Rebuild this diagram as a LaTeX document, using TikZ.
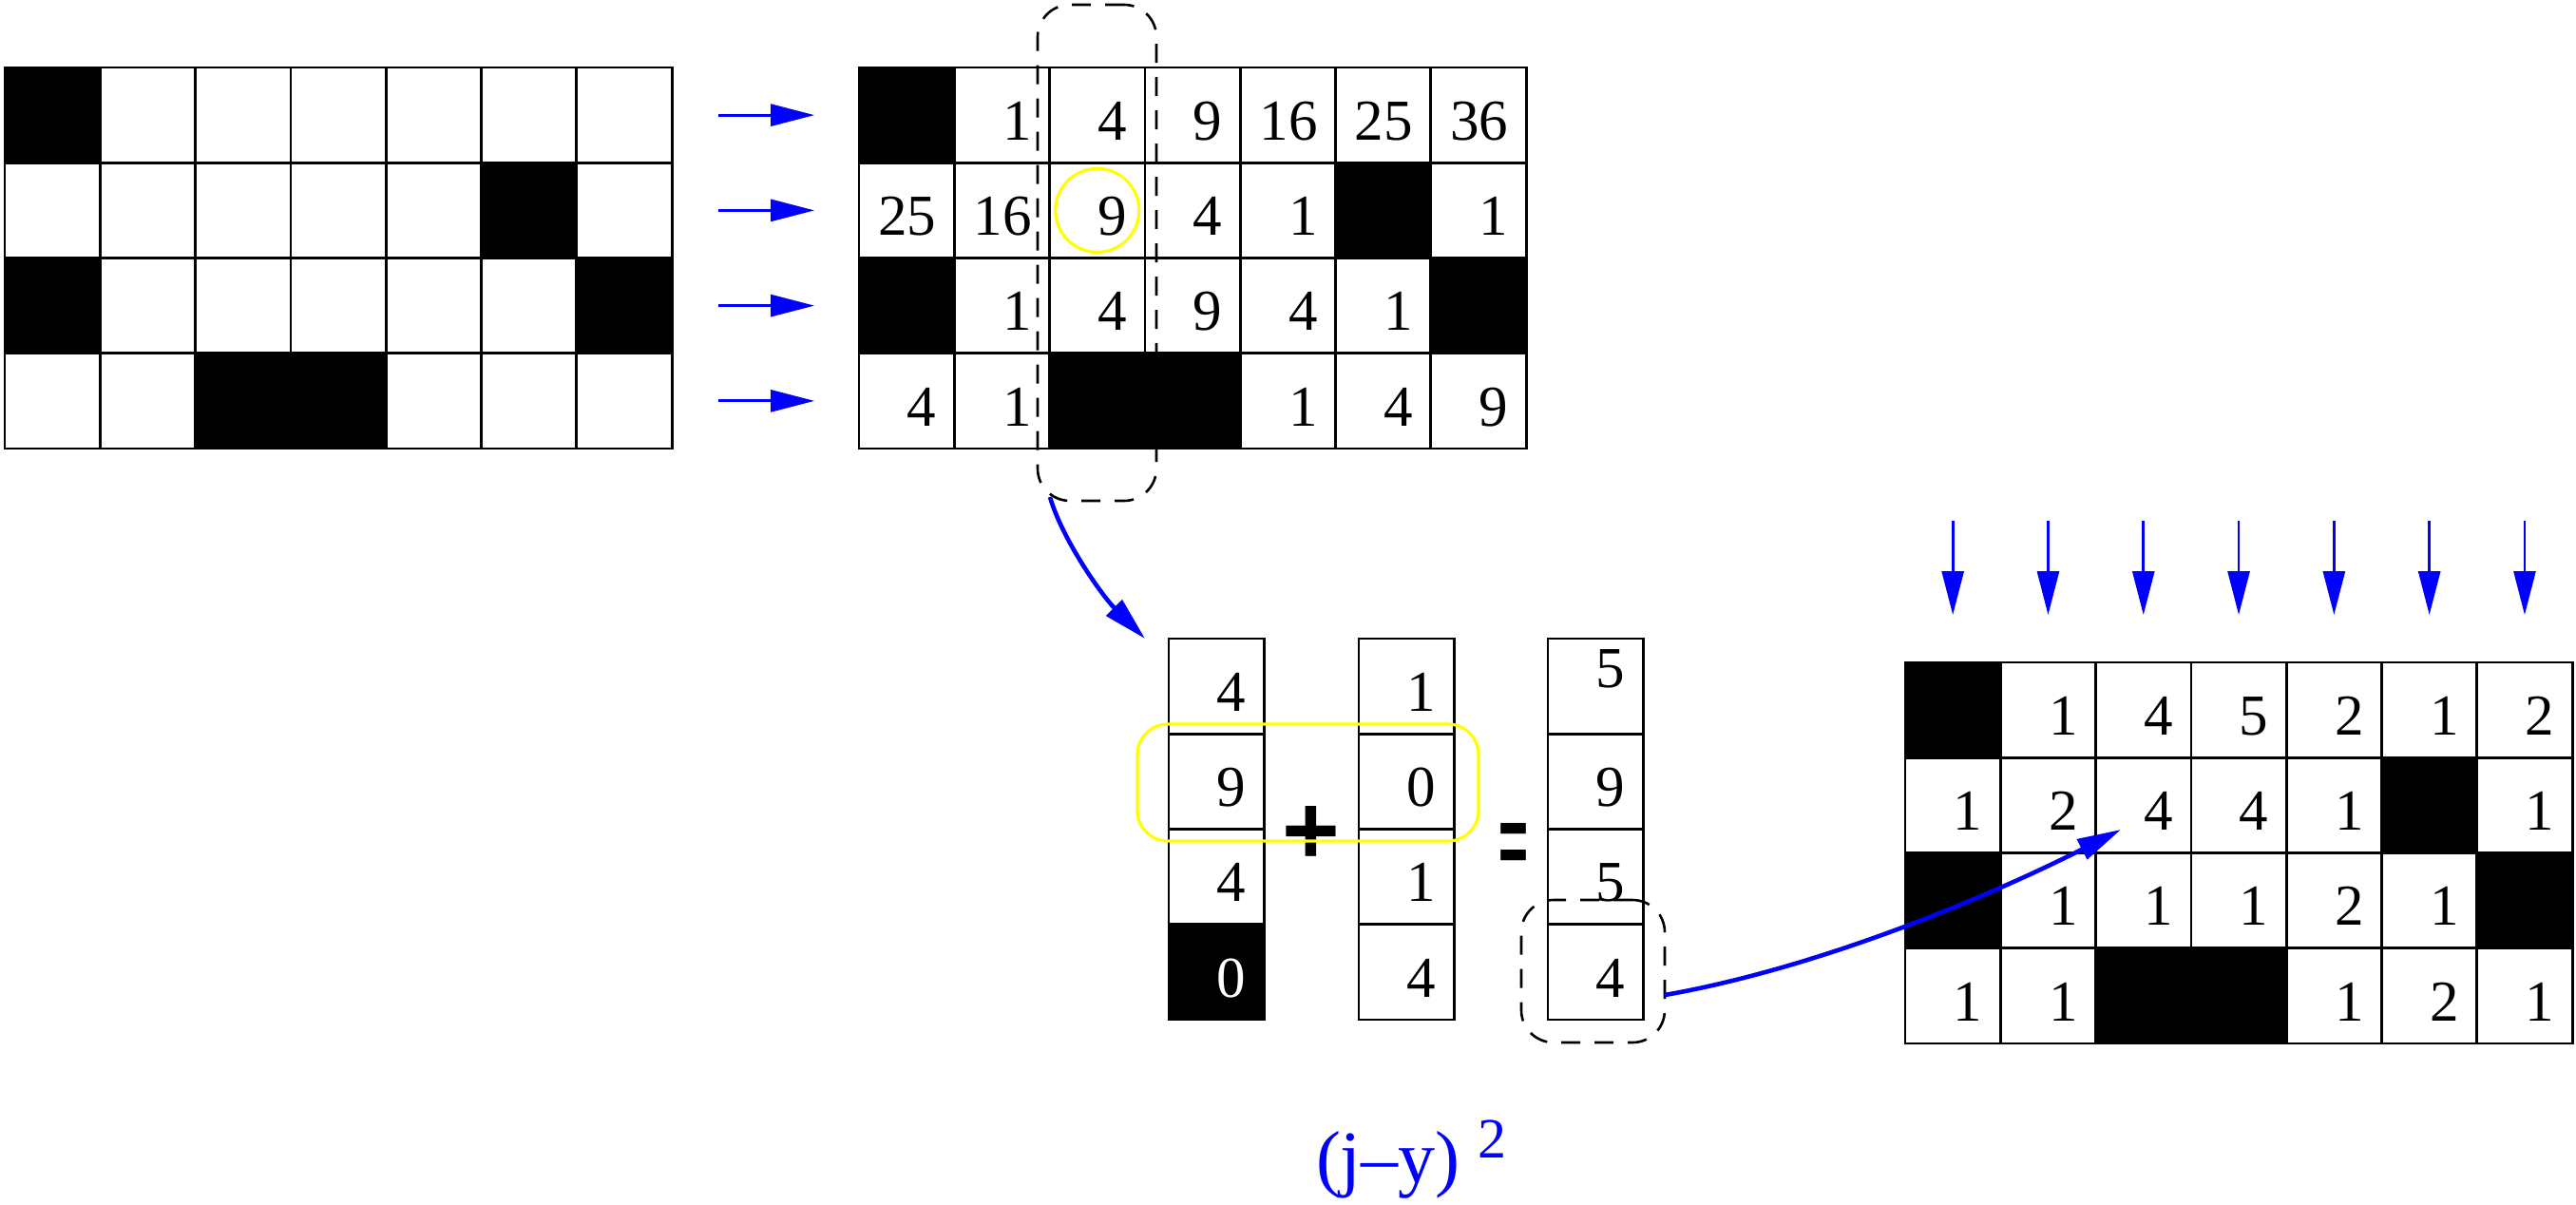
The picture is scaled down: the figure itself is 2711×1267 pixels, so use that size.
\documentclass[tikz,border=0pt]{standalone}
\usepackage{fontspec}
\setmainfont{Liberation Serif}
\newfontfamily\symfont{Liberation Sans}
\usetikzlibrary{arrows.meta}
\definecolor{pblue}{RGB}{0,0,255}
\definecolor{pyellow}{RGB}{255,255,0}
\def\tmpX{X}
\def\tmpE{-}
\tikzset{
  cell/.style={draw=black, line width=2.8pt, minimum width=100.3pt, minimum height=100.25pt, inner sep=0pt, outer sep=0pt, anchor=north west},
  blk/.style={cell, fill=black},
  num/.style={font=\fontsize{61}{72}\selectfont, inner sep=0pt, outer sep=0pt, anchor=base east},
  headtip/.style={-{Triangle[length=46pt,width=23pt]}},
  bluearrow/.style={draw=pblue, line width=2.8pt, headtip, pblue},
  bluecurve/.style={draw=pblue, line width=4.6pt, headtip, pblue},
  dashbox/.style={draw=black, line width=2.6pt, dash pattern=on 20pt off 15pt, rounded corners=34pt, inner sep=0pt, outer sep=0pt},
  yelbox/.style={draw=pyellow, line width=3.2pt, inner sep=0pt, outer sep=0pt},
  opsym/.style={font=\symfont\bfseries\fontsize{104}{110}\selectfont, inner sep=0pt, outer sep=0pt, anchor=base}
}
\newcommand{\gridrow}[5]{%
  \foreach \v [count=\c from 0] in {#5} {%
    \edef\tmpv{\v}%
    \ifx\tmpv\tmpX
      \node[blk] (#1-#4-\c) at ({#2+\c*100.3},{#3+#4*100.25}) {};
    \else
      \node[cell] (#1-#4-\c) at ({#2+\c*100.3},{#3+#4*100.25}) {};
      \ifx\tmpv\tmpE\else
        \node[num] (#1t-#4-\c) at ([xshift=-19pt,yshift=24pt]#1-#4-\c.south east) {\v};
      \fi
    \fi
  }%
}
\begin{document}
\begin{tikzpicture}[x=1pt,y=-1pt]
\fill[white] (0,0) rectangle (2711,1267);
\useasboundingbox (0,0) rectangle (2711,1267);

% grid 1
\gridrow{ga}{5}{71}{0}{X,-,-,-,-,-,-}
\gridrow{ga}{5}{71}{1}{-,-,-,-,-,X,-}
\gridrow{ga}{5}{71}{2}{X,-,-,-,-,-,X}
\gridrow{ga}{5}{71}{3}{-,-,X,X,-,-,-}

% right arrows
\foreach \r in {0,1,2,3} {
  \draw[bluearrow] ([xshift=49pt]ga-\r-6.east) -- ([xshift=150pt]ga-\r-6.east);
}

% grid 2
\gridrow{gb}{904}{71}{0}{X,1,4,9,16,25,36}
\gridrow{gb}{904}{71}{1}{25,16,9,4,1,X,1}
\gridrow{gb}{904}{71}{2}{X,1,4,9,4,1,X}
\gridrow{gb}{904}{71}{3}{4,1,X,X,1,4,9}

% yellow circle and dashed column box
\node[yelbox, circle, minimum size=88pt] (ycirc) at (gb-1-2.center) {};
\node[dashbox, minimum width=125pt, minimum height=522pt] (colbox) at (1154.5,266) {};

% column vectors
\foreach \v [count=\r from 0] in {4,9,4} {
  \node[cell] (va-\r) at (1230,{672+\r*100.25}) {};
  \node[num] (vat-\r) at ([xshift=-19pt,yshift=24pt]va-\r.south east) {\v};
}
\node[blk] (va-3) at (1230,{672+3*100.25}) {};
\node[num, text=white] (vat-3) at ([xshift=-19pt,yshift=24pt]va-3.south east) {0};

\foreach \v [count=\r from 0] in {1,0,1,4} {
  \node[cell] (vb-\r) at (1430,{672+\r*100.25}) {};
  \node[num] (vbt-\r) at ([xshift=-19pt,yshift=24pt]vb-\r.south east) {\v};
}

\node[cell] (vc-0) at (1629,672) {};
\node[num] (vct-0) at ([xshift=-19pt,yshift=49pt]vc-0.south east) {5};
\foreach \v [count=\r from 1] in {9,5,4} {
  \node[cell] (vc-\r) at (1629,{672+\r*100.25}) {};
  \node[num] (vct-\r) at ([xshift=-19pt,yshift=24pt]vc-\r.south east) {\v};
}

% operators
\node[opsym] (plus) at (1380,909) {+};
\node[opsym] (eq) at (1593,920) {\scalebox{0.51}[1]{=}};

% yellow rounded box and dashed box around last cell
\node[yelbox, rounded corners=32pt, minimum width=359pt, minimum height=123pt] (ybox) at (1376.5,823.5) {};
\node[dashbox, minimum width=151pt, minimum height=150pt] (cellbox) at (1676.5,1022) {};

% grid 3
\gridrow{gc}{2005}{697}{0}{X,1,4,5,2,1,2}
\gridrow{gc}{2005}{697}{1}{1,2,4,4,1,X,1}
\gridrow{gc}{2005}{697}{2}{X,1,1,1,2,1,X}
\gridrow{gc}{2005}{697}{3}{1,1,X,X,1,2,1}

% down arrows
\foreach \c in {0,...,6} {
  \draw[bluearrow] ([yshift=149pt]gc-0-\c.north) -- ([yshift=50pt]gc-0-\c.north);
}

% curved arrows
\coordinate (a1s) at (1105,523);
\coordinate (a1e) at (1205,672);
\draw[bluecurve] (a1s) .. controls +(13,45) and +(-45,-45) .. (a1e);

\coordinate (a2s) at (1752,1047);
\coordinate (a2e) at (2232,873);
\draw[bluecurve] (a2s) .. controls +(160,-28) and +(-142,72) .. (a2e);

% label
\node[anchor=base west, inner sep=0pt, outer sep=0pt, text=pblue, font=\fontsize{78}{90}\selectfont] (lbl) at (1385,1244) {(j–y)\hspace{19pt}\raisebox{26pt}{\fontsize{60}{70}\selectfont 2}};
\end{tikzpicture}
\end{document}
